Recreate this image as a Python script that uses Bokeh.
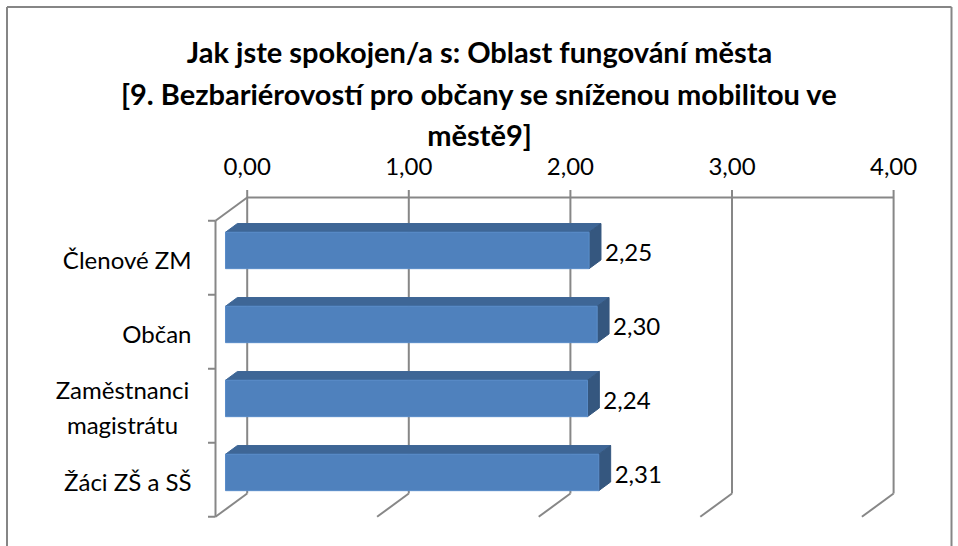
from bokeh.plotting import figure
from bokeh.models import Range1d, ColumnDataSource
from bokeh.embed import file_html
from bokeh.resources import INLINE
from bokeh.core.properties import value

# ---------------- data ----------------
title_lines = [
    "Jak jste spokojen/a s: Oblast fungování města",
    "[9. Bezbariérovostí pro občany se sníženou mobilitou ve",
    "městě9]",
]
categories = ["Členové ZM", "Občan", "Zaměstnanci\nmagistrátu", "Žáci ZŠ a SŠ"]
values = [2.25, 2.30, 2.24, 2.31]
value_labels = ["2,25", "2,30", "2,24", "2,31"]
ticks = [0, 1, 2, 3, 4]
tick_labels = ["0,00", "1,00", "2,00", "3,00", "4,00"]

# ---------------- layout constants ----------------
W, H = 958, 546
MARGIN = 0
PX = 161.6          # pixels per value unit
X0 = 246.7          # page x of value 0 on the back wall
SLOT = 74.0         # pixels per category slot
Y0 = 493.0          # page y of the bottom of the back wall
DX = -31.7 / PX     # full depth offset (x) in data units
DY = -23.3 / SLOT   # full depth offset (y) in data units
DF, DB = 0.685, 0.31  # bar front / back depth
HH = 18.2 / SLOT    # bar half height
FONT = "Lato"
FS = "24px"
GRID_COL = "#878787"

x_range = Range1d((MARGIN - X0) / PX, (MARGIN + W - X0) / PX)
y_range = Range1d((Y0 - (MARGIN + H)) / SLOT, (Y0 - MARGIN) / SLOT)

def px_x(page_x):
    return (page_x - X0) / PX

def px_y(page_y):
    return (Y0 - page_y) / SLOT

p = figure(width=W, height=H, x_range=x_range, y_range=y_range,
           output_backend="svg", toolbar_location=None,
           x_axis_type=None, y_axis_type=None, min_border=0)
p.outline_line_color = None
p.background_fill_color = "white"
p.border_fill_color = "white"

n = len(categories)
top_y = float(n)

# ---------------- chart border ----------------
bx0, bx1, by0 = px_x(6.5), px_x(951), px_y(6.5)
p.segment(x0=[bx0, bx0, bx1], y0=[y_range.start, by0, by0],
          x1=[bx0, bx1, bx1], y1=[by0, by0, y_range.start],
          line_color="#868686", line_width=2)

# ---------------- walls / gridlines ----------------
tick_up = 7.5 / SLOT
gx0, gy0, gx1, gy1 = [], [], [], []
for t in ticks:
    gx0.append(t); gy0.append(0); gx1.append(t); gy1.append(top_y + tick_up)
    gx0.append(t); gy0.append(0); gx1.append(t + DX); gy1.append(DY)
gx0.append(ticks[0]); gy0.append(top_y); gx1.append(ticks[-1]); gy1.append(top_y)
gx0.append(0); gy0.append(top_y); gx1.append(DX); gy1.append(top_y + DY)
gx0.append(DX); gy0.append(DY); gx1.append(DX); gy1.append(top_y + DY)
tick_left = 7.5 / PX
for k in range(n + 1):
    gx0.append(DX); gy0.append(k + DY); gx1.append(DX - tick_left); gy1.append(k + DY)
p.segment(x0=gx0, y0=gy0, x1=gx1, y1=gy1, line_color=GRID_COL, line_width=2)

# ---------------- 3D bars ----------------
front_l, front_r, front_b, front_t = [], [], [], []
top_xs, top_ys, side_xs, side_ys = [], [], [], []
for k, v in enumerate(values):
    yc = n - k - 0.5
    fl = DX * DF
    fr = v + DX * DF
    fb = yc - HH + DY * DF
    ft = yc + HH + DY * DF
    br = v + DX * DB
    bl = DX * DB
    bt = yc + HH + DY * DB
    bb = yc - HH + DY * DB
    front_l.append(fl); front_r.append(fr); front_b.append(fb); front_t.append(ft)
    top_xs.append([fl, fr, br, bl]); top_ys.append([ft, ft, bt, bt])
    side_xs.append([fr, fr, br, br]); side_ys.append([ft, fb, bb, bt])

p.patches(xs=top_xs, ys=top_ys, fill_color="#3E6696", line_color="#3E6696", line_width=1)
p.patches(xs=side_xs, ys=side_ys, fill_color="#35577F", line_color="#35577F", line_width=1)
p.quad(left=front_l, right=front_r, bottom=front_b, top=front_t,
       fill_color="#4F81BD", line_color="#5A8CC9", line_width=1)

# ---------------- data labels ----------------
lab_src = ColumnDataSource(dict(
    x=[v + DX * DB + 4.0 / PX for v in values],
    y=[n - k - 0.5 + DY * DF - 2.0 / SLOT for k in range(n)],
    text=value_labels))
p.text(x="x", y="y", text="text", source=lab_src, text_font=value(FONT),
       text_font_size=FS, text_align="left", text_baseline="middle",
       text_color="black")

# ---------------- value axis tick labels ----------------
tick_src = ColumnDataSource(dict(x=ticks, y=[px_y(166)] * len(ticks), text=tick_labels))
p.text(x="x", y="y", text="text", source=tick_src, text_font=value(FONT),
       text_font_size=FS, text_align="center", text_baseline="middle",
       text_color="black")

# ---------------- category labels ----------------
single = [(k, c) for k, c in enumerate(categories) if "\n" not in c]
multi = [(k, c) for k, c in enumerate(categories) if "\n" in c]
cat_right = px_x(191)
p.text(x=[cat_right] * len(single),
       y=[n - k - 0.5 + DY - 2.0 / SLOT for k, _ in single],
       text=[c for _, c in single], text_font=value(FONT), text_font_size=FS,
       text_align="right", text_baseline="middle", text_color="black")
p.text(x=[px_x(122)] * len(multi),
       y=[n - k - 0.5 + DY - 1.0 / SLOT for k, _ in multi],
       text=[c for _, c in multi], text_font=value(FONT), text_font_size=FS,
       text_align="center", text_baseline="middle", text_color="black",
       text_line_height=1.22)

# ---------------- title ----------------
title_y = [51, 93, 134]
p.text(x=[px_x(479)] * len(title_lines), y=[px_y(t) for t in title_y],
       text=title_lines, text_font=value(FONT), text_font_size="29px",
       text_font_style="bold", text_align="center", text_baseline="middle",
       text_color="black")

open("out.html", "w").write(file_html(p, INLINE))
